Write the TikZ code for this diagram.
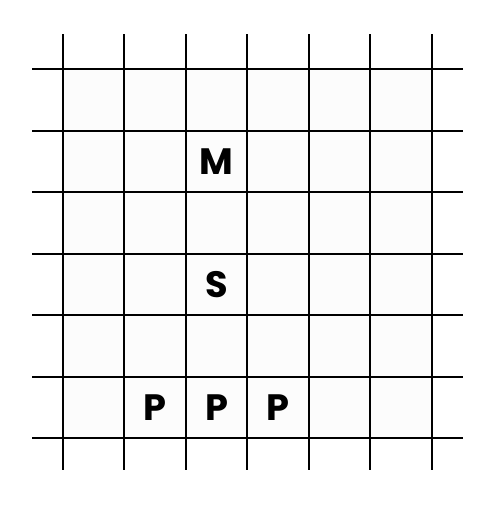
\documentclass[tikz,border=0pt]{standalone}
\usepackage{fontspec}
\usepackage{tikz}
\setsansfont{Poppins}

\begin{document}
\begin{tikzpicture}[line width = 0.9pt, piece/.style = {font=\sffamily\bfseries\fontsize{17}{17}\selectfont}]
\useasboundingbox (-1.026,-1.156) rectangle (7.085,7.13);
\fill[black!1] (0,0) rectangle (6,6);
\foreach \i in {0,...,6}
{
    \draw (\i,-0.52) -- (\i,6.58);
    \draw (-0.5,\i) -- (6.51,\i);
}
\draw (2.5,4.5) node[piece](m){M}
    (2.5,2.5) node[piece](s){S}
    (1.5,0.5) node[piece](p1){P}
    (2.5,0.5) node[piece](p2){P}
    (3.5,0.5) node[piece](p3){P};
\end{tikzpicture}
\end{document}
